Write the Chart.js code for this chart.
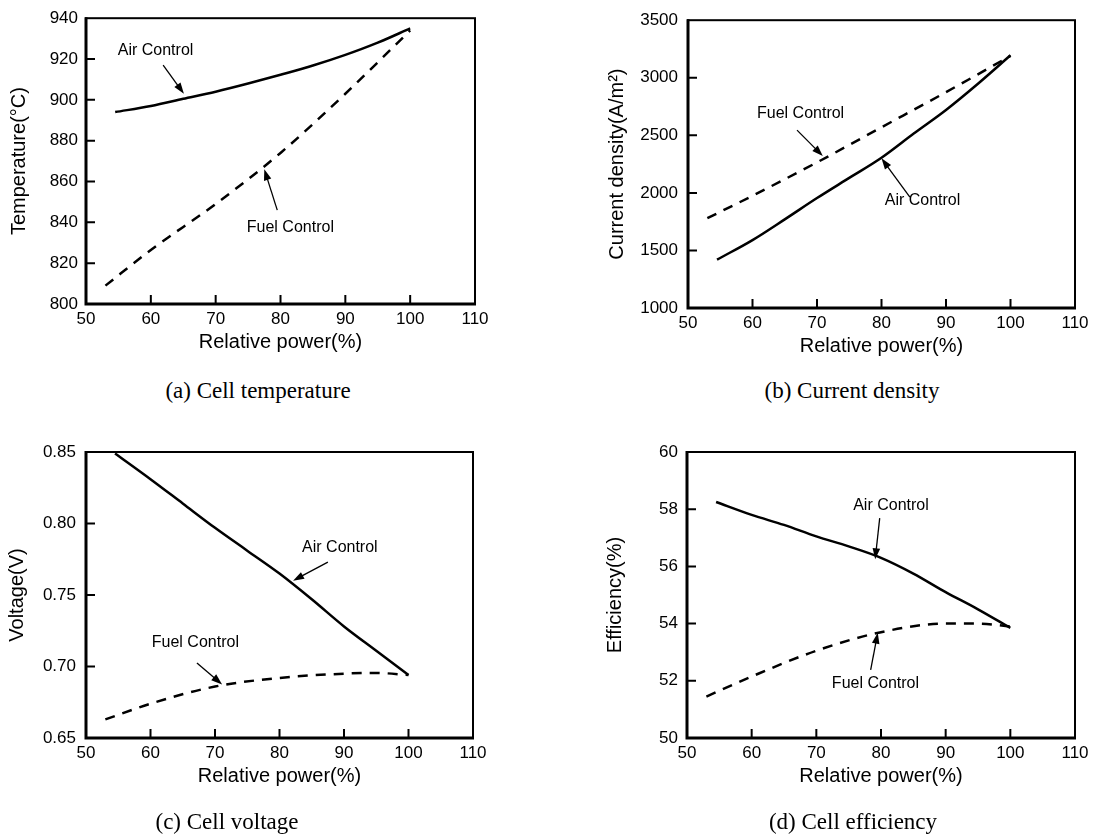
<!DOCTYPE html>
<html>
<head>
<meta charset="utf-8">
<script src="https://cdn.jsdelivr.net/npm/chart.js@4.4.0/dist/chart.umd.min.js"></script>
<style>
body{margin:0;background:#fff;width:1097px;height:836px;position:relative;overflow:hidden;}
.panel{position:absolute;}
.cap{position:absolute;font-family:"Liberation Serif","Times New Roman",serif;font-size:23px;line-height:26px;color:#000;white-space:nowrap;transform:translateX(-50%);}
</style>
</head>
<body>
<div class="panel" style="left:0;top:0"><canvas id="chartA" width="548" height="360"></canvas></div>
<div class="panel" style="left:548px;top:0"><canvas id="chartB" width="549" height="360"></canvas></div>
<div class="panel" style="left:0;top:420px"><canvas id="chartC" width="548" height="416"></canvas></div>
<div class="panel" style="left:548px;top:420px"><canvas id="chartD" width="549" height="416"></canvas></div>
<div class="cap" style="left:258px;top:378px">(a) Cell temperature</div>
<div class="cap" style="left:852px;top:378px">(b) Current density</div>
<div class="cap" style="left:227px;top:809px">(c) Cell voltage</div>
<div class="cap" style="left:853px;top:809px">(d) Cell efficiency</div>
<script>
// relative power (%) shared by the tick axis
const powerTicks = [50, 60, 70, 80, 90, 100, 110];

// air control curves, all panels use the same power points
const airPower = [54.5, 60, 65, 70, 75, 80, 85, 90, 95, 100];
const airTemp = [894, 897, 900.5, 904, 908, 912.3, 916.8, 922, 928, 935];
const airCurrent = [1420, 1590, 1770, 1955, 2130, 2305, 2515, 2720, 2950, 3195];
const airVoltage = [0.849, 0.831, 0.814, 0.797, 0.781, 0.765, 0.747, 0.728, 0.711, 0.694];
const airEfficiency = [58.25, 57.8, 57.45, 57.05, 56.7, 56.3, 55.75, 55.1, 54.5, 53.85];

// fuel control curves
const fuelPowerA = [53, 60, 70, 80, 90, 100];
const fuelTemp = [809, 826.5, 849, 874, 903, 934];
const fuelPowerB = [53, 60, 70, 80, 90, 100];
const fuelCurrent = [1780, 1975, 2265, 2570, 2875, 3190];
const fuelPowerC = [53, 60, 70, 80, 90, 95, 100];
const fuelVoltage = [0.663, 0.674, 0.686, 0.692, 0.695, 0.6955, 0.694];
const fuelPowerD = [53, 60, 70, 80, 90, 95, 100];
const fuelEfficiency = [51.45, 52.15, 53.05, 53.7, 54.0, 54.0, 53.9];

// y tick values
const tempTicks = [800, 820, 840, 860, 880, 900, 920, 940];
const currentTicks = [1000, 1500, 2000, 2500, 3000, 3500];
const voltageTicks = [0.65, 0.70, 0.75, 0.80, 0.85];
const efficiencyTicks = [50, 52, 54, 56, 58, 60];

const sans = "'Liberation Sans', Arial, Helvetica, sans-serif";

// labels with arrows, in data units
const notas = {
chartA: [
{text: "Air Control", at: [54.9, 924], from: [61.9, 917], to: [65.1, 903]},
{text: "Fuel Control", at: [74.8, 837.6], from: [79.5, 846], to: [77.5, 866]}
],
chartB: [
{text: "Fuel Control", at: [60.7, 2693], from: [66.9, 2545], to: [70.9, 2320]},
{text: "Air Control", at: [80.5, 1937], from: [84.4, 1964], to: [80, 2300]}
],
chartC: [
{text: "Air Control", at: [83.5, 0.783], from: [87.5, 0.773], to: [82.1, 0.760]},
{text: "Fuel Control", at: [60.2, 0.7164], from: [67.2, 0.7025], to: [71.1, 0.6875]}
],
chartD: [
{text: "Air Control", at: [75.7, 58.11], from: [79.8, 57.69], to: [79.1, 56.25]},
{text: "Fuel Control", at: [72.4, 51.89], from: [78.4, 52.38], to: [79.5, 53.68]}
]
};

const marco = {
id: "marco",
afterDatasetsDraw(chart){
const ctx = chart.ctx;
const a = chart.chartArea;
const sx = chart.scales.x;
const sy = chart.scales.y;
ctx.save();
ctx.strokeStyle = "#000";
ctx.lineCap = "butt";

// frame, left and bottom a bit heavier
ctx.lineWidth = 2;
ctx.strokeRect(a.left, a.top, a.right - a.left, a.bottom - a.top);
ctx.lineWidth = 3;
ctx.beginPath();
ctx.moveTo(a.left, a.top - 1);
ctx.lineTo(a.left, a.bottom);
ctx.lineTo(a.right + 1, a.bottom);
ctx.stroke();

// inward tick marks
ctx.lineWidth = 2;
ctx.beginPath();
sx.ticks.forEach(t => {
if (t.value <= sx.min || t.value >= sx.max) return;
const px = sx.getPixelForValue(t.value);
ctx.moveTo(px, a.bottom);
ctx.lineTo(px, a.bottom - 9);
});
sy.ticks.forEach(t => {
if (t.value <= sy.min || t.value >= sy.max) return;
const py = sy.getPixelForValue(t.value);
ctx.moveTo(a.left, py);
ctx.lineTo(a.left + 9, py);
});
ctx.stroke();

ctx.fillStyle = "#000";
ctx.font = "16px " + sans;
ctx.textAlign = "left";
ctx.textBaseline = "middle";
(notas[chart.canvas.id] || []).forEach(n => {
ctx.fillText(n.text, sx.getPixelForValue(n.at[0]), sy.getPixelForValue(n.at[1]));
const x1 = sx.getPixelForValue(n.from[0]);
const y1 = sy.getPixelForValue(n.from[1]);
const x2 = sx.getPixelForValue(n.to[0]);
const y2 = sy.getPixelForValue(n.to[1]);
const ang = Math.atan2(y2 - y1, x2 - x1);
ctx.lineWidth = 1.3;
ctx.beginPath();
ctx.moveTo(x1, y1);
ctx.lineTo(x2 - 8 * Math.cos(ang), y2 - 8 * Math.sin(ang));
ctx.stroke();
ctx.beginPath();
ctx.moveTo(x2, y2);
ctx.lineTo(x2 - 11 * Math.cos(ang) + 3.8 * Math.sin(ang), y2 - 11 * Math.sin(ang) - 3.8 * Math.cos(ang));
ctx.lineTo(x2 - 11 * Math.cos(ang) - 3.8 * Math.sin(ang), y2 - 11 * Math.sin(ang) + 3.8 * Math.cos(ang));
ctx.closePath();
ctx.fill();
});
ctx.restore();
}
};

function pares(xs, ys){
return xs.map((x, i) => ({x: x, y: ys[i]}));
}

function crearGrafico(id, p){
return new Chart(document.getElementById(id), {
type: "line",
data: {
datasets: [
{
label: "Air Control",
data: pares(p.airX, p.airY),
borderColor: "#000",
borderWidth: 2.5,
pointRadius: 0,
cubicInterpolationMode: "monotone",
fill: false
},
{
label: "Fuel Control",
data: pares(p.fuelX, p.fuelY),
borderColor: "#000",
borderWidth: 2.5,
borderDash: [10, 8],
pointRadius: 0,
cubicInterpolationMode: "monotone",
fill: false
}
]
},
options: {
responsive: false,
animation: false,
devicePixelRatio: 1,
layout: {padding: p.pad},
plugins: {legend: {display: false}, tooltip: {enabled: false}},
scales: {
x: {
type: "linear",
min: 50,
max: 110,
afterBuildTicks: s => { s.ticks = powerTicks.map(v => ({value: v})); },
afterFit: s => { s.height = 50; },
grid: {display: true, drawOnChartArea: false, drawTicks: false},
border: {display: false},
ticks: {padding: 5, color: "#000", font: {family: sans, size: 17}, maxRotation: 0, autoSkip: false},
title: {display: true, text: "Relative power(%)", color: "#000", font: {family: sans, size: 20}, padding: 0}
},
y: {
type: "linear",
min: p.yTicks[0],
max: p.yTicks[p.yTicks.length - 1],
afterBuildTicks: s => { s.ticks = p.yTicks.map(v => ({value: v})); },
afterFit: s => { s.width = p.yWidth; },
grid: {display: true, drawOnChartArea: false, drawTicks: false},
border: {display: false},
ticks: {
padding: p.tickPad,
color: "#000",
font: {family: sans, size: 17},
autoSkip: false,
callback: v => p.fmt(v)
},
title: {display: true, text: p.yTitle, color: "#000", font: {family: sans, size: 20}, padding: {top: p.titlePad, bottom: 0}}
}
}
},
plugins: [marco]
});
}

crearGrafico("chartA", {
airX: airPower, airY: airTemp,
fuelX: fuelPowerA, fuelY: fuelTemp,
yTicks: tempTicks, fmt: v => String(v),
yTitle: "Temperature(°C)",
yWidth: 86, tickPad: 8, titlePad: 7.4,
pad: {top: 17, right: 73, bottom: 6, left: 0}
});

crearGrafico("chartB", {
airX: airPower, airY: airCurrent,
fuelX: fuelPowerB, fuelY: fuelCurrent,
yTicks: currentTicks, fmt: v => String(v),
yTitle: "Current density(A/m²)",
yWidth: 140, tickPad: 10, titlePad: 57,
pad: {top: 20, right: 22, bottom: 2, left: 0}
});

crearGrafico("chartC", {
airX: airPower, airY: airVoltage,
fuelX: fuelPowerC, fuelY: fuelVoltage,
yTicks: voltageTicks, fmt: v => v.toFixed(2),
yTitle: "Voltage(V)",
yWidth: 86, tickPad: 10, titlePad: 5.4,
pad: {top: 32, right: 75, bottom: 48, left: 0}
});

crearGrafico("chartD", {
airX: airPower, airY: airEfficiency,
fuelX: fuelPowerD, fuelY: fuelEfficiency,
yTicks: efficiencyTicks, fmt: v => String(v),
yTitle: "Efficiency(%)",
yWidth: 139, tickPad: 9, titlePad: 55,
pad: {top: 32, right: 22, bottom: 48, left: 0}
});
</script>
</body>
</html>
